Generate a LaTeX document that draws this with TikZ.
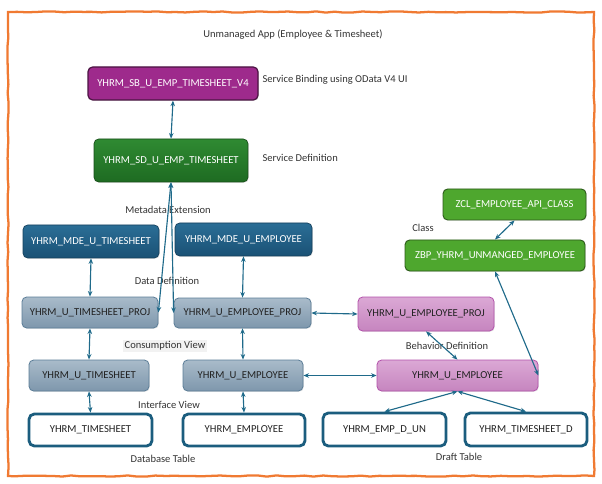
\documentclass[tikz,border=0pt]{standalone}
\usepackage{fontspec}
\setmainfont{Carlito}
\usetikzlibrary{arrows.meta,shadows,decorations.pathmorphing}
\definecolor{frameor}{HTML}{F07A32}
\definecolor{sbfill}{HTML}{9E2A8C}
\definecolor{sbdraw}{HTML}{4A1442}
\definecolor{sdtop}{HTML}{2F8A32}
\definecolor{sdbot}{HTML}{1E6B22}
\definecolor{sddraw}{HTML}{174D19}
\definecolor{mdetop}{HTML}{2B6E96}
\definecolor{mdebot}{HTML}{1A5175}
\definecolor{mdedraw}{HTML}{15405C}
\definecolor{grtop}{HTML}{A9BBCA}
\definecolor{grbot}{HTML}{7E97AC}
\definecolor{grdraw}{HTML}{5B7D97}
\definecolor{grnR}{HTML}{4EA72E}
\definecolor{grnRdraw}{HTML}{2C5A1A}
\definecolor{pktop}{HTML}{DBA8D5}
\definecolor{pkbot}{HTML}{C685BF}
\definecolor{pkdraw}{HTML}{B352AB}
\definecolor{tbldraw}{HTML}{1B5D7E}
\definecolor{arrowc}{HTML}{1F6A8A}
\definecolor{txtd}{HTML}{222222}
\definecolor{lbl}{HTML}{333333}
\tikzset{
  wh/.style 2 args={minimum width=#1*0.75pt, minimum height=#2*0.75pt},
  basebox/.style={rounded corners=3.5pt, inner sep=0pt, font=\fontsize{8}{9.5}\selectfont,
     drop shadow={opacity=0.2, shadow xshift=0.6pt, shadow yshift=-0.6pt}},
  sbbox/.style={basebox, fill=sbfill, draw=sbdraw, line width=0.9pt, text=white},
  sdbox/.style={basebox, top color=sdtop, bottom color=sdbot, draw=sddraw, line width=0.5pt, text=white},
  mdebox/.style={basebox, top color=mdetop, bottom color=mdebot, draw=mdedraw, line width=0.5pt, text=white},
  grbox/.style={basebox, top color=grtop, bottom color=grbot, draw=grdraw, line width=0.6pt, text=txtd},
  clbox/.style={basebox, fill=grnR, draw=grnRdraw, line width=0.7pt, text=white},
  pkbox/.style={basebox, top color=pktop, bottom color=pkbot, draw=pkdraw, line width=0.6pt, text=txtd},
  tblbox/.style={rounded corners=4pt, inner sep=0pt, font=\fontsize{8}{9.5}\selectfont,
     fill=white, draw=tbldraw, line width=2.1pt, text=txtd},
  lab/.style={font=\fontsize{7.9}{9.5}\selectfont, text=lbl, inner sep=1pt},
  conn/.style={draw=arrowc, line width=0.85pt, {Stealth[length=4.2pt,width=3.4pt]}-{Stealth[length=4.2pt,width=3.4pt]}},
}
\begin{document}
\begin{tikzpicture}[x=0.75pt,y=-0.75pt]
\useasboundingbox (0,0) rectangle (602,484);
\pgfmathsetseed{7}
\draw[frameor, line width=1.7pt, decorate, decoration={random steps, segment length=7pt, amplitude=0.45pt}]
  (8,12) -- (594,12) -- (594,476) -- (8,476) -- cycle;

\node[lab] (title) at (293,35) {Unmanaged App (Employee \& Timesheet)};

\node[sbbox, wh={170}{33}] (sb) at (173,83.5) {YHRM\_SB\_U\_EMP\_TIMESHEET\_V4};
\node[lab, anchor=west] (sblab) at (261,80) {Service Binding using OData V4 UI};

\node[sdbox, wh={154}{43}] (sd) at (171,160.5) {YHRM\_SD\_U\_EMP\_TIMESHEET};
\node[lab, anchor=west] (sdlab) at (261,158) {Service Definition};

\node[lab] (metalab) at (168,210) {Metadata Extension};
\node[mdebox, wh={136}{33}] (mdet) at (91,241.5) {YHRM\_MDE\_U\_TIMESHEET};
\node[mdebox, wh={137}{33}] (mdee) at (243.5,239.5) {YHRM\_MDE\_U\_EMPLOYEE};

\node[lab] (ddlab) at (167,281) {Data Definition};
\node[grbox, wh={136}{31}] (tp) at (90,312.5) {YHRM\_U\_TIMESHEET\_PROJ};
\node[grbox, wh={137}{30}] (ep) at (242.5,313) {YHRM\_U\_EMPLOYEE\_PROJ};

\node[lab, fill=black!5] (cvlab) at (165,346) {Consumption View};
\node[grbox, wh={120}{31}] (ut) at (89,375.5) {YHRM\_U\_TIMESHEET};
\node[grbox, wh={120}{31}] (ue) at (243,375.5) {YHRM\_U\_EMPLOYEE};

\node[lab] (ivlab) at (169,405) {Interface View};
\node[tblbox, wh={123}{32}] (yt) at (90.5,430) {YHRM\_TIMESHEET};
\node[tblbox, wh={122}{32}] (ye) at (244,430) {YHRM\_EMPLOYEE};
\node[lab] (dblab) at (163,459) {Database Table};

\node[clbox, wh={143}{31}] (zcl) at (514.5,204.5) {ZCL\_EMPLOYEE\_API\_CLASS};
\node[lab] (clslab) at (423,228) {Class};
\node[clbox, wh={180}{31}] (zbp) at (495,255.5) {ZBP\_YHRM\_UNMANGED\_EMPLOYEE};

\node[pkbox, wh={136}{34}] (pp) at (426,314) {YHRM\_U\_EMPLOYEE\_PROJ};
\node[lab] (bdlab) at (447,346) {Behavior Definition};
\node[pkbox, wh={161}{31}] (pue) at (457.5,375.5) {YHRM\_U\_EMPLOYEE};

\node[tblbox, wh={123}{33}] (edu) at (384.5,429.5) {YHRM\_EMP\_D\_UN};
\node[tblbox, wh={122}{33}] (tsd) at (526,429.5) {YHRM\_TIMESHEET\_D};
\node[lab] (dtlab) at (459,457) {Draft Table};

% connectors
\draw[conn] (sb.south) -- (sd.north);
\draw[conn] (sd.south) -- (tp.east);
\draw[conn] (sd.south) -- (ep.west);
\draw[conn] (mdet.south) -- (tp.north);
\draw[conn] (mdee.south) -- (ep.north);
\draw[conn] (tp.south) -- (ut.north);
\draw[conn] (ut.south) -- (yt.north);
\draw[conn] (ep.south) -- (ue.north);
\draw[conn] (ue.south) -- (ye.north);
\draw[conn] (ep.east) -- (pp.west);
\draw[conn] (ue.east) -- (pue.west);
\draw[conn] (pp.south) -- (pue.north);
\draw[conn] (pue.south) -- (edu.north);
\draw[conn] (pue.south) -- (tsd.north);
\draw[conn] (zbp.south) -- (pue.east);
\draw[conn] (zcl.south) -- (zbp.north);
\end{tikzpicture}
\end{document}
